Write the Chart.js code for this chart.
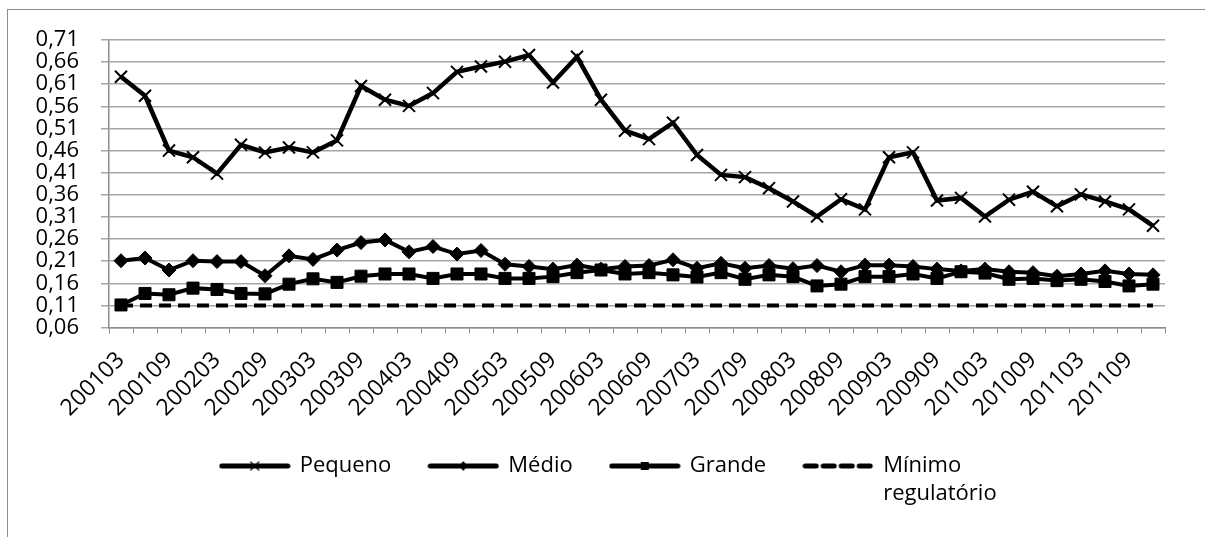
<!DOCTYPE html>
<html>
<head>
<meta charset="utf-8">
<script src="https://cdn.jsdelivr.net/npm/chart.js@4.4.0/dist/chart.umd.min.js"></script>
<style>
  html, body { margin: 0; padding: 0; background: #fff; overflow: hidden; }
  #wrap { position: relative; width: 1205px; height: 537px; }
  #frame { position: absolute; left: 7px; top: 9px; width: 1210px; height: 540px; border: 1px solid #8c8c8c; pointer-events: none; }
  canvas { position: absolute; left: 0; top: 0; }
</style>
</head>
<body>
<div id="wrap">
  <canvas id="chart" width="1205" height="537"></canvas>
  <div id="frame"></div>
</div>
<script>
// trimestres 2001-2011
const quarters = [
  '200103', '200106', '200109', '200112', '200203', '200206', '200209', '200212',
  '200303', '200306', '200309', '200312', '200403', '200406', '200409', '200412',
  '200503', '200506', '200509', '200512', '200603', '200606', '200609', '200612',
  '200703', '200706', '200709', '200712', '200803', '200806', '200809', '200812',
  '200903', '200906', '200909', '200912', '201003', '201006', '201009', '201012',
  '201103', '201106', '201109', '201112'
];

const pequeno = [
  0.627, 0.584, 0.460, 0.445, 0.408, 0.473, 0.456, 0.467, 0.456, 0.483,
  0.606, 0.575, 0.561, 0.590, 0.638, 0.650, 0.661, 0.676, 0.614, 0.672,
  0.575, 0.505, 0.486, 0.523, 0.450, 0.405, 0.400, 0.375, 0.345, 0.311,
  0.350, 0.327, 0.445, 0.456, 0.347, 0.353, 0.311, 0.349, 0.367, 0.334,
  0.361, 0.345, 0.327, 0.290
];

const medio = [
  0.211, 0.217, 0.190, 0.211, 0.209, 0.209, 0.177, 0.222, 0.214, 0.235,
  0.252, 0.258, 0.231, 0.243, 0.226, 0.234, 0.203, 0.198, 0.192, 0.201,
  0.192, 0.198, 0.200, 0.213, 0.194, 0.205, 0.194, 0.200, 0.193, 0.200,
  0.186, 0.201, 0.201, 0.198, 0.192, 0.188, 0.192, 0.186, 0.184, 0.176,
  0.181, 0.188, 0.181, 0.179
];

const grande = [
  0.111, 0.137, 0.134, 0.149, 0.146, 0.137, 0.136, 0.158, 0.170, 0.162,
  0.176, 0.181, 0.181, 0.171, 0.181, 0.181, 0.171, 0.171, 0.175, 0.184,
  0.190, 0.181, 0.184, 0.179, 0.174, 0.184, 0.169, 0.179, 0.175, 0.154,
  0.158, 0.175, 0.175, 0.181, 0.171, 0.186, 0.183, 0.169, 0.171, 0.166,
  0.169, 0.164, 0.154, 0.158
];

const minimo = [
  0.11, 0.11, 0.11, 0.11, 0.11, 0.11, 0.11, 0.11, 0.11, 0.11,
  0.11, 0.11, 0.11, 0.11, 0.11, 0.11, 0.11, 0.11, 0.11, 0.11,
  0.11, 0.11, 0.11, 0.11, 0.11, 0.11, 0.11, 0.11, 0.11, 0.11,
  0.11, 0.11, 0.11, 0.11, 0.11, 0.11, 0.11, 0.11, 0.11, 0.11,
  0.11, 0.11, 0.11, 0.11
];

const yTicks = [0.06, 0.11, 0.16, 0.21, 0.26, 0.31, 0.36, 0.41, 0.46, 0.51, 0.56, 0.61, 0.66, 0.71];

const legendText = ['Pequeno', 'Médio', 'Grande', ['Mínimo', 'regulatório']];

const FONT = '"Open Sans", "DejaVu Sans", sans-serif';

// amostras da legenda (linha + marcador pequeno)
function legendSample(kind) {
  const c = document.createElement('canvas');
  c.width = 72; c.height = 16;
  const g = c.getContext('2d');
  g.strokeStyle = '#000';
  g.fillStyle = '#000';
  g.lineWidth = 5;
  g.lineCap = 'round';
  if (kind === 'dash') g.setLineDash([11, 7]);
  g.beginPath();
  g.moveTo(3, 8);
  g.lineTo(69, 8);
  g.stroke();
  g.setLineDash([]);
  if (kind === 'cross') {
    g.lineWidth = 1.2;
    g.beginPath();
    g.moveTo(32, 4); g.lineTo(40, 12);
    g.moveTo(40, 4); g.lineTo(32, 12);
    g.stroke();
  } else if (kind === 'diamond') {
    g.beginPath();
    g.moveTo(36, 3); g.lineTo(40, 8); g.lineTo(36, 13); g.lineTo(32, 8);
    g.closePath();
    g.fill();
  } else if (kind === 'square') {
    g.fillRect(32, 4, 8, 8);
  }
  return c;
}

const samples = [legendSample('cross'), legendSample('diamond'), legendSample('square'), legendSample('dash')];

// desloca a legenda e deixa espaço para a segunda linha do texto
const legendShift = {
  id: 'legendShift',
  afterLayout(chart) {
    chart.legend.left += 64;
    chart.legend.right += 64;
    chart.legend.bottom += 45;
  }
};

new Chart(document.getElementById('chart'), {
  type: 'line',
  data: {
    labels: quarters,
    datasets: [
      {
        label: 'Pequeno',
        data: pequeno,
        borderColor: '#000',
        borderWidth: 4.5,
        pointStyle: 'crossRot',
        pointRadius: 8.5,
        pointBorderWidth: 2,
        pointBorderColor: '#000',
        pointBackgroundColor: '#000'
      },
      {
        label: 'Médio',
        data: medio,
        borderColor: '#000',
        borderWidth: 4,
        pointStyle: 'rectRot',
        pointRadius: 7,
        pointBorderWidth: 1,
        pointBorderColor: '#000',
        pointBackgroundColor: '#000'
      },
      {
        label: 'Grande',
        data: grande,
        borderColor: '#000',
        borderWidth: 4,
        pointStyle: 'rect',
        pointRadius: 8.5,
        pointBorderWidth: 1,
        pointBorderColor: '#000',
        pointBackgroundColor: '#000'
      },
      {
        label: 'Mínimo regulatório',
        data: minimo,
        borderColor: '#000',
        borderWidth: 4,
        borderDash: [12, 7],
        pointRadius: 0
      }
    ]
  },
  options: {
    responsive: false,
    animation: false,
    layout: { padding: { left: 8, right: 40, top: 40, bottom: 50 } },
    plugins: {
      tooltip: { enabled: false },
      legend: {
        position: 'bottom',
        labels: {
          usePointStyle: true,
          pointStyleWidth: 68,
          boxHeight: 22,
          padding: 38,
          color: '#000',
          font: { family: FONT, size: 22, lineHeight: 1.27 },
          generateLabels: chart => chart.data.datasets.map((ds, i) => ({
            text: legendText[i],
            pointStyle: samples[i],
            fillStyle: '#000',
            strokeStyle: '#000',
            fontColor: '#000',
            lineWidth: 0,
            hidden: false,
            datasetIndex: i
          }))
        }
      }
    },
    scales: {
      x: {
        offset: true,
        grid: { display: true, drawOnChartArea: false, offset: true, tickLength: 6, color: '#8c8c8c', lineWidth: 1 },
        border: { color: '#8c8c8c', width: 1.5 },
        ticks: {
          autoSkip: false,
          minRotation: 45,
          maxRotation: 45,
          padding: 13,
          color: '#000',
          font: { family: FONT, size: 23 },
          callback: (v, i) => (i % 2 === 0 ? quarters[i] : '')
        },
        afterFit: s => { s.height = 89.5; }
      },
      y: {
        min: 0.06,
        max: 0.71,
        afterBuildTicks: s => { s.ticks = yTicks.map(v => ({ value: v })); },
        grid: { color: '#a6a6a6', lineWidth: 1.5, tickLength: 8 },
        border: { color: '#8c8c8c', width: 1.5 },
        ticks: {
          autoSkip: false,
          padding: 22,
          color: '#000',
          font: { family: FONT, size: 22 },
          callback: v => v.toFixed(2).replace('.', ',')
        },
        afterFit: s => { s.width = 101; }
      }
    }
  },
  plugins: [legendShift]
});
</script>
</body>
</html>
